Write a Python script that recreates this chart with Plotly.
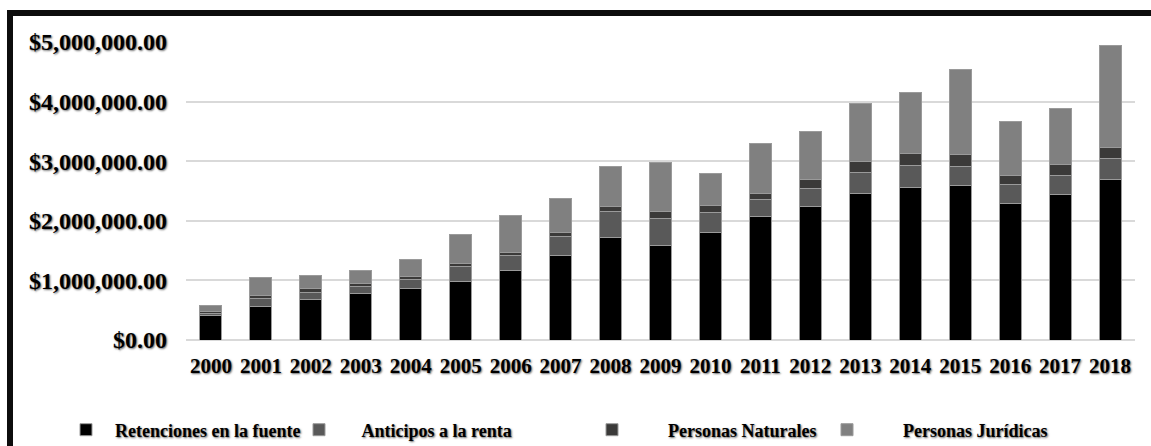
import plotly.graph_objects as go

# Recaudación por año (USD), apilada por componente
years = [str(y) for y in range(2000, 2019)]

retenciones = [403000, 559000, 683000, 772000, 867000, 978000, 1174000, 1426000,
               1723000, 1594000, 1812000, 2069000, 2248000, 2461000, 2556000,
               2584000, 2282000, 2444000, 2696000]
anticipos = [37000, 134000, 122000, 122000, 140000, 252000, 241000, 308000,
             430000, 442000, 330000, 291000, 302000, 346000, 375000, 324000,
             319000, 324000, 341000]
naturales = [35000, 56000, 56000, 51000, 55000, 56000, 56000, 73000, 95000,
             112000, 112000, 106000, 135000, 185000, 201000, 201000, 167000,
             185000, 196000]
juridicas = [101000, 297000, 218000, 213000, 292000, 481000, 626000, 564000,
             666000, 822000, 543000, 823000, 810000, 968000, 1024000, 1433000,
             890000, 934000, 1712000]

series_names = ["Retenciones en la fuente", "Anticipos a la renta",
                "Personas Naturales", "Personas Jurídicas"]
series_values = [retenciones, anticipos, naturales, juridicas]
colors = ["#000000", "#595959", "#3b3a39", "#808080"]
legend_ids = ["legend", "legend2", "legend3", "legend4"]
name_pad = [2, 5, 8, 8]  # extra space between swatch and label

FONT = "Liberation Serif"
SHADOW = "1px 1px 2px rgba(0,0,0,0.6)"

fig = go.Figure()
for name, vals, col, lg, pad in zip(series_names, series_values, colors, legend_ids, name_pad):
    fig.add_trace(go.Bar(
        x=years, y=vals, name="\u00a0" * pad + name,
        marker=dict(color=col, line=dict(color="#9a9a9a", width=1)),
        legend=lg,
    ))

# plot area geometry in pixels (for placing the legends / frame)
W, H = 1151, 446
ml, mr, mt, mb = 186, 16, 42, 106
pw, ph = W - ml - mr, H - mt - mb


def px_x(p):
    return (p - ml) / pw


def px_y(p):
    return (H - mb - p) / ph


legend_font = dict(family=FONT, size=18, color="#000000", weight="bold", shadow=SHADOW)
legend_x = [66, 299, 592, 827]
legend_layout = {}
for lg, lx in zip(legend_ids, legend_x):
    legend_layout[lg] = dict(
        xref="container", yref="container",
        x=lx / W, y=(H - 430) / H, xanchor="left", yanchor="middle",
        orientation="h", font=legend_font, bgcolor="rgba(0,0,0,0)",
        borderwidth=0,
    )

fig.update_layout(
    width=W, height=H,
    margin=dict(l=ml, r=mr, t=mt, b=mb, autoexpand=False),
    barmode="stack",
    bargap=0.56,
    plot_bgcolor="#ffffff",
    paper_bgcolor="#ffffff",
    showlegend=True,
    **legend_layout,
)

fig.update_yaxes(
    range=[0, 5000000], dtick=1000000, tick0=0,
    tickprefix="$", tickformat=",.2f",
    showgrid=True, gridcolor="#d9d9d9", gridwidth=1.5,
    zeroline=True, zerolinecolor="#d9d9d9", zerolinewidth=1.5,
    showline=False, ticks="", ticklabelstandoff=18, automargin=False,
    tickfont=dict(family=FONT, size=24, color="#000000", weight="bold", shadow=SHADOW),
)
fig.update_xaxes(
    showgrid=False, showline=False, ticks="", ticklabelstandoff=11, automargin=False,
    tickfont=dict(family=FONT, size=21, color="#000000", weight="bold", shadow=SHADOW),
)

# outer frame (top and left edges)
frame = dict(color="#0d0d0d", width=6)
fig.add_shape(type="line", xref="paper", yref="paper",
              x0=px_x(7), x1=px_x(W + 5), y0=px_y(13), y1=px_y(13), line=frame)
fig.add_shape(type="line", xref="paper", yref="paper",
              x0=px_x(10), x1=px_x(10), y0=px_y(10), y1=px_y(H + 5), line=frame)

fig.write_html("out.html")
